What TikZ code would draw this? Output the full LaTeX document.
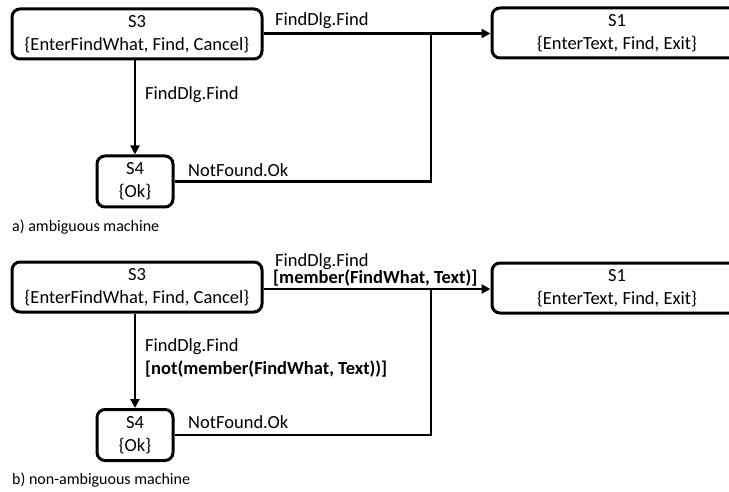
\documentclass[tikz,border=0pt]{standalone}
\usepackage{fontspec}
\setmainfont{Carlito}
\usetikzlibrary{arrows.meta}
\begin{document}
\begin{tikzpicture}[x=1pt,y=-1pt,
  state/.style={draw=black,line width=3pt,rounded corners=8pt,align=center,
    inner sep=0pt,font=\fontsize{18.5}{23}\selectfont},
  wide/.style={state,minimum width=250pt,minimum height=50pt},
  small/.style={state,minimum width=76pt,minimum height=51pt},
  conn/.style={line width=2.5pt},
  arr/.style={conn,-{Triangle[length=9pt,width=9pt]}},
  lbl/.style={anchor=west,inner sep=0pt,font=\fontsize{18.5}{21}\selectfont},
  caption/.style={anchor=west,inner sep=0pt,font=\fontsize{16}{19}\selectfont}]
\useasboundingbox (0,0) rectangle (729,492);

% a) ambiguous machine
\node[wide] (a3) at (137,34) {S3\\\{EnterFindWhat, Find, Cancel\}};
\node[wide] (a1) at (617,33) {S1\\\{EnterText, Find, Exit\}};
\node[small] (a4) at (135,181.5) {S4\\\{Ok\}};
\coordinate (aj) at (431,33.5);
\draw[arr] (a3.east |- aj) -- (a1.west |- aj);
\draw[arr] (a4.north |- a3.south) -- (a4.north);
\draw[conn] (a4.east) -- (a4.east -| aj) -- (aj);
\node[lbl] (at1) at (275,21) {FindDlg.Find};
\node[lbl] (at2) at (145,95) {FindDlg.Find};
\node[lbl] (at3) at (188,170) {NotFound.Ok};
\node[caption] (acap) at (12,227) {a) ambiguous machine};

% b) non-ambiguous machine
\node[wide] (b3) at (137,287) {S3\\\{EnterFindWhat, Find, Cancel\}};
\node[wide] (b1) at (617,288) {S1\\\{EnterText, Find, Exit\}};
\node[small] (b4) at (135,435) {S4\\\{Ok\}};
\coordinate (bj) at (431,289);
\draw[arr] (b3.east |- bj) -- (b1.west |- bj);
\draw[arr] (b4.north |- b3.south) -- (b4.north);
\draw[conn] (b4.east) -- (b4.east -| bj) -- (bj);
\node[lbl] (bt1) at (275,262) {FindDlg.Find};
\node[lbl] (bt1g) at (273,278) {\textbf{[member(FindWhat, Text)]}};
\node[lbl] (bt2) at (145,347) {FindDlg.Find};
\node[lbl] (bt2g) at (145,369) {\textbf{[not(member(FindWhat, Text))]}};
\node[lbl] (bt3) at (188,422) {NotFound.Ok};
\node[caption] (bcap) at (12,480) {b) non-ambiguous machine};
\end{tikzpicture}
\end{document}
